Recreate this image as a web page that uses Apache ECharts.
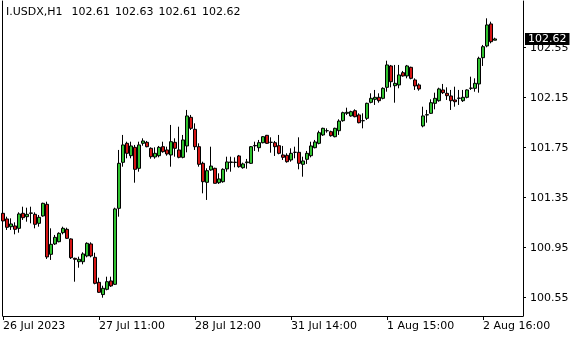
<!DOCTYPE html>
<html>
<head>
<meta charset="utf-8">
<script src="https://cdn.jsdelivr.net/npm/echarts@6/dist/echarts.min.js"></script>
<style>
html,body{margin:0;padding:0;background:#fff;}
#c{width:580px;height:340px;}
</style>
</head>
<body>
<div id="c"></div>
<script>
const symbolName = 'I.USDX,H1';
const opens  = [101.225,101.180,101.118,101.124,101.105,101.225,101.198,101.225,101.217,101.145,101.204,101.297,100.897,100.980,100.998,101.070,101.097,101.020,100.865,100.838,100.838,100.884,100.980,100.873,100.673,100.575,100.617,100.684,100.657,101.265,101.633,101.785,101.686,101.753,101.585,101.785,101.793,101.745,101.676,101.686,101.758,101.732,101.692,101.793,101.732,101.673,101.764,101.993,101.897,101.758,101.625,101.473,101.572,101.585,101.470,101.478,101.580,101.632,101.634,101.684,101.590,101.630,101.625,101.765,101.750,101.790,101.849,101.793,101.790,101.766,101.692,101.689,101.652,101.713,101.713,101.617,101.657,101.686,101.750,101.785,101.852,101.886,101.878,101.838,101.886,101.966,102.025,102.004,102.046,102.012,101.966,101.985,102.113,102.137,102.153,102.145,102.233,102.404,102.246,102.252,102.350,102.324,102.393,102.292,102.252,101.924,102.012,102.025,102.105,102.126,102.212,102.185,102.164,102.132,102.145,102.126,102.153,102.225,102.225,102.260,102.470,102.564,102.740,102.61];
const highs  = [101.278,101.198,101.185,101.153,101.233,101.278,101.270,101.278,101.233,101.212,101.310,101.318,101.105,101.052,101.073,101.118,101.110,101.025,100.870,100.878,100.913,100.993,100.993,100.910,100.710,100.646,100.718,100.718,101.270,101.732,101.852,101.798,101.798,101.772,101.798,101.825,101.804,101.753,101.753,101.764,101.798,101.758,101.932,101.825,101.918,101.852,102.052,102.012,101.945,101.785,101.638,101.585,101.758,101.590,101.545,101.585,101.678,101.678,101.673,101.692,101.630,101.660,101.763,101.798,101.812,101.843,101.852,101.833,101.804,101.852,101.764,101.705,101.745,101.758,101.833,101.678,101.724,101.798,101.812,101.886,101.910,101.905,101.886,101.910,101.977,102.038,102.070,102.046,102.057,102.025,102.025,102.110,102.185,102.212,102.185,102.233,102.446,102.412,102.412,102.412,102.364,102.412,102.398,102.305,102.265,102.078,102.052,102.137,102.190,102.230,102.260,102.233,102.212,102.238,102.212,102.212,102.217,102.318,102.305,102.478,102.572,102.785,102.758,102.63];
const lows   = [101.132,101.092,101.092,101.057,101.070,101.172,101.158,101.145,101.105,101.118,101.198,100.860,100.852,100.972,100.993,101.057,101.020,100.860,100.678,100.790,100.817,100.873,100.873,100.657,100.588,100.550,100.609,100.636,100.652,101.198,101.598,101.665,101.665,101.470,101.558,101.766,101.753,101.662,101.662,101.673,101.710,101.686,101.598,101.678,101.665,101.665,101.713,101.892,101.732,101.598,101.385,101.332,101.566,101.465,101.460,101.470,101.558,101.558,101.593,101.590,101.582,101.582,101.620,101.724,101.718,101.785,101.780,101.710,101.684,101.697,101.652,101.630,101.638,101.665,101.577,101.518,101.620,101.673,101.745,101.777,101.844,101.870,101.838,101.833,101.852,101.958,102.012,101.998,101.993,101.945,101.905,101.972,102.105,102.092,102.110,102.137,102.198,102.233,102.110,102.225,102.318,102.305,102.297,102.212,102.206,101.913,101.950,102.020,102.057,102.118,102.180,102.132,102.052,102.078,102.092,102.116,102.145,102.212,102.198,102.190,102.404,102.553,102.585,102.61];
const closes = [101.164,101.113,101.140,101.097,101.220,101.190,101.217,101.228,101.137,101.193,101.305,100.876,100.977,101.033,101.065,101.105,101.025,100.870,100.857,100.857,100.900,100.985,100.884,100.665,100.593,100.625,100.678,100.644,101.260,101.625,101.772,101.705,101.764,101.577,101.772,101.804,101.758,101.678,101.705,101.753,101.718,101.700,101.798,101.745,101.673,101.812,102.004,101.905,101.758,101.617,101.478,101.566,101.603,101.465,101.500,101.577,101.636,101.636,101.632,101.598,101.620,101.636,101.758,101.768,101.790,101.838,101.785,101.793,101.758,101.705,101.673,101.638,101.705,101.713,101.625,101.644,101.705,101.764,101.796,101.870,101.905,101.886,101.846,101.905,101.963,102.030,102.033,102.038,101.998,101.950,101.966,102.105,102.145,102.153,102.126,102.225,102.412,102.278,102.265,102.332,102.324,102.404,102.305,102.244,102.220,102.004,102.014,102.110,102.145,102.220,102.190,102.166,102.126,102.118,102.147,102.153,102.212,102.227,102.265,102.465,102.558,102.732,102.598,102.62];
const tickIdx = [0, 24, 48, 72, 96, 120];
const tickLabels = ['26 Jul 2023', '27 Jul 11:00', '28 Jul 12:00', '31 Jul 14:00', '1 Aug 15:00', '2 Aug 16:00'];
const yTicks = [100.55, 100.95, 101.35, 101.75, 102.15, 102.55];
const emptySlots = 7;
const yMin = 100.4036, yMax = 102.9236;

const n = opens.length;
const cats = [];
for (let i = 0; i < n + emptySlots; i++) cats.push(String(i));
const candles = opens.map((o, i) => [o, closes[i], lows[i], highs[i]]);
const last = n - 1;
const fmt = v => v.toFixed(2);
const font = 'DejaVu Sans';
const headerText = '{t|' + symbolName + '}{g1|}' +
  [opens[last], highs[last], lows[last], closes[last]].map(v => '{t|' + fmt(v) + '}').join('{g2|}');

const chart = echarts.init(document.getElementById('c'), null, {renderer: 'canvas'});
chart.setOption({
  animation: false,
  backgroundColor: '#ffffff',
  title: {
    text: headerText,
    left: 6, top: 7, padding: 0,
    textStyle: {
      color: '#000', fontSize: 11, fontWeight: 'normal', fontFamily: font,
      rich: {
        t: {color: '#000', fontSize: 11, fontFamily: font},
        g1: {width: 9, height: 1},
        g2: {width: 5, height: 1}
      }
    }
  },
  grid: {left: 3, right: 57, top: 1, bottom: 24, containLabel: false},
  xAxis: {
    type: 'category', data: cats, boundaryGap: false,
    axisLine: {onZero: false, lineStyle: {color: '#000', width: 1}},
    axisTick: {interval: i => tickIdx.includes(i), length: 4, lineStyle: {color: '#000'}},
    axisLabel: {
      interval: i => tickIdx.includes(i),
      formatter: (v, i) => tickLabels[tickIdx.indexOf(Number(v))] || '',
      align: 'left', color: '#000', fontSize: 11, fontFamily: font, margin: 5, hideOverlap: false
    },
    splitLine: {show: false}
  },
  yAxis: [{
    type: 'value', position: 'right', min: yMin, max: yMax, scale: true,
    axisLine: {show: true, onZero: false, lineStyle: {color: '#000'}},
    axisTick: {show: true, customValues: yTicks, length: 3, lineStyle: {color: '#000'}},
    axisLabel: {customValues: yTicks, formatter: fmt, color: '#000', fontSize: 11, fontFamily: font, margin: 7},
    splitLine: {show: false}
  }, {
    type: 'value', position: 'left', offset: 1, min: yMin, max: yMax, scale: true,
    axisLine: {show: true, onZero: false, lineStyle: {color: '#000'}},
    axisTick: {show: false}, axisLabel: {show: false}, splitLine: {show: false}
  }],
  series: [{
    type: 'candlestick',
    data: candles,
    barWidth: 3,
    itemStyle: {color: '#2fc22f', color0: '#d41414', borderColor: '#000', borderColor0: '#000', borderWidth: 1},
    markLine: {
      silent: true, symbol: 'none', animation: false,
      lineStyle: {width: 1, color: 'rgba(0,0,0,0)'},
      data: [{yAxis: closes[last]}],
      label: {
        show: true, position: 'end', distance: 2, formatter: fmt(closes[last]),
        color: '#fff', backgroundColor: '#000', fontSize: 11, fontFamily: font,
        padding: [1, 3, 0, 3], lineHeight: 11
      }
    }
  }]
});
</script>
</body>
</html>
